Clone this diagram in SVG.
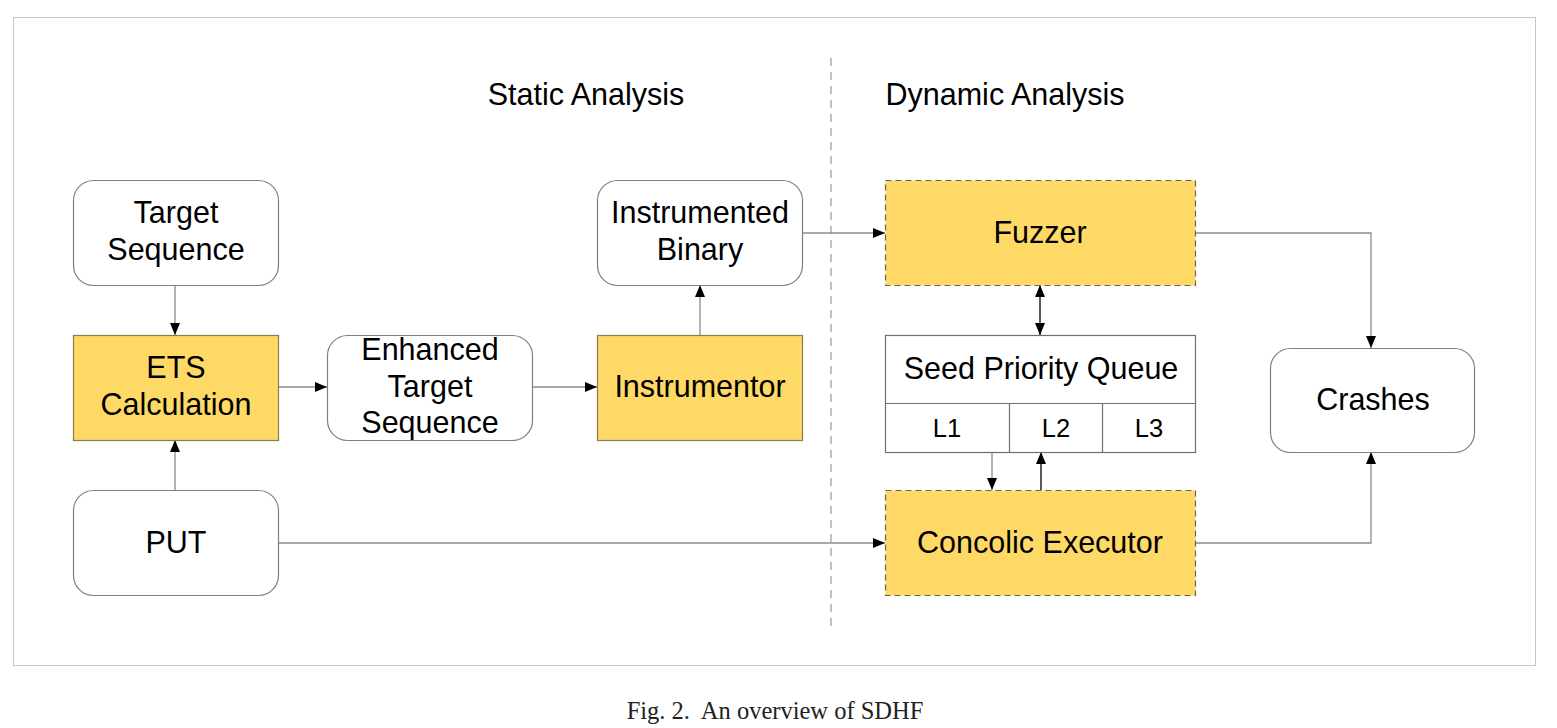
<svg xmlns="http://www.w3.org/2000/svg" width="1557" height="728" viewBox="0 0 1557 728">
<style>
.t{font-family:"Liberation Sans",Arial,sans-serif;font-size:30.5px;fill:#000;text-anchor:middle}
.s{font-size:25.5px}
.cap{font-family:"Liberation Serif","Times New Roman",serif;font-size:24.5px;fill:#222;text-anchor:middle}
.rnd{fill:#fff;stroke:#7f7f7f;stroke-width:1.2}
.yel{fill:#FFD966;stroke:#8a7a55;stroke-width:1.2}
.dsh{fill:#FFD966;stroke:#6b6352;stroke-width:1.2;stroke-dasharray:6 4}
.box{fill:#fff;stroke:#6f6f6f;stroke-width:1.2}
.c{fill:none;stroke:#8c8c8c;stroke-width:1.3}
.k{fill:none;stroke:#000;stroke-width:1.3}
</style>
<defs>
<marker id="a" viewBox="0 0 12 12" refX="12" refY="6" markerWidth="12" markerHeight="12" markerUnits="userSpaceOnUse" orient="auto">
<path d="M0,1 L12,6 L0,11 Z" fill="#000"/>
</marker>
<marker id="as" viewBox="0 0 12 12" refX="12" refY="6" markerWidth="12" markerHeight="12" markerUnits="userSpaceOnUse" orient="auto-start-reverse">
<path d="M0,1 L12,6 L0,11 Z" fill="#000"/>
</marker>
</defs>
<rect x="0" y="0" width="1557" height="728" fill="#fff"/>
<rect x="13.5" y="17.5" width="1522" height="648" fill="none" stroke="#c8c8c8" stroke-width="1"/>
<line x1="831" y1="58" x2="831" y2="630" stroke="#a0a0a0" stroke-width="1.3" stroke-dasharray="8 6"/>
<text class="t" x="586" y="105">Static Analysis</text>
<text class="t" x="1005" y="105">Dynamic Analysis</text>

<g id="connectors">
<path class="c" d="M175,285 V335" marker-end="url(#a)"/>
<path class="c" d="M175,490 V440" marker-end="url(#a)"/>
<path class="c" d="M278,387 H327" marker-end="url(#a)"/>
<path class="c" d="M532,387 H597" marker-end="url(#a)"/>
<path class="c" d="M700,335 V285" marker-end="url(#a)"/>
<path class="c" d="M802,233 H885" marker-end="url(#a)"/>
<path class="c" d="M278,543 H885" marker-end="url(#a)"/>
<path class="k" d="M1040,285 V335" marker-start="url(#as)" marker-end="url(#a)"/>
<path class="c" d="M947,452 H992 V490" marker-end="url(#a)"/>
<path class="k" d="M1041,490 V452" marker-end="url(#a)"/>
<path class="c" d="M1195,233 H1371 V348" marker-end="url(#a)"/>
<path class="c" d="M1195,543 H1371 V452" marker-end="url(#a)"/>
</g>

<g id="target-sequence">
<rect class="rnd" x="73.5" y="180.5" width="205" height="105" rx="20"/>
<text class="t" x="176" y="223">Target</text>
<text class="t" x="176" y="260">Sequence</text>
</g>
<g id="ets-calculation">
<rect class="yel" x="73.5" y="335.5" width="205" height="105"/>
<text class="t" x="176" y="378">ETS</text>
<text class="t" x="176" y="415">Calculation</text>
</g>
<g id="enhanced-target-sequence">
<rect class="rnd" x="327.5" y="335.5" width="205" height="105" rx="20"/>
<text class="t" x="430" y="360">Enhanced</text>
<text class="t" x="430" y="397">Target</text>
<text class="t" x="430" y="433">Sequence</text>
</g>
<g id="instrumentor">
<rect class="yel" x="597.5" y="335.5" width="205" height="105"/>
<text class="t" x="700" y="397">Instrumentor</text>
</g>
<g id="instrumented-binary">
<rect class="rnd" x="597.5" y="180.5" width="205" height="105" rx="20"/>
<text class="t" x="700" y="223">Instrumented</text>
<text class="t" x="700" y="260">Binary</text>
</g>
<g id="put">
<rect class="rnd" x="73.5" y="490.5" width="205" height="105" rx="20"/>
<text class="t" x="176" y="553">PUT</text>
</g>
<g id="fuzzer">
<rect class="dsh" x="885.5" y="180.5" width="310" height="105"/>
<text class="t" x="1040" y="243">Fuzzer</text>
</g>
<g id="seed-priority-queue">
<rect class="box" x="885.5" y="335.5" width="310" height="117"/>
<line x1="885.5" y1="403.5" x2="1195.5" y2="403.5" stroke="#6f6f6f" stroke-width="1.2"/>
<line x1="1009.5" y1="403.5" x2="1009.5" y2="452.5" stroke="#6f6f6f" stroke-width="1.2"/>
<line x1="1102.5" y1="403.5" x2="1102.5" y2="452.5" stroke="#6f6f6f" stroke-width="1.2"/>
<text class="t" x="1041" y="379">Seed Priority Queue</text>
<text class="t s" x="947" y="437">L1</text>
<text class="t s" x="1056" y="437">L2</text>
<text class="t s" x="1149" y="437">L3</text>
</g>
<g id="concolic-executor">
<rect class="dsh" x="885.5" y="490.5" width="310" height="105"/>
<text class="t" x="1040" y="553">Concolic Executor</text>
</g>
<g id="crashes">
<rect class="rnd" x="1270.5" y="348.5" width="204" height="104" rx="20"/>
<text class="t" x="1373" y="410">Crashes</text>
</g>
<text class="cap" x="775" y="719" xml:space="preserve">Fig. 2.  An overview of SDHF</text>
</svg>
